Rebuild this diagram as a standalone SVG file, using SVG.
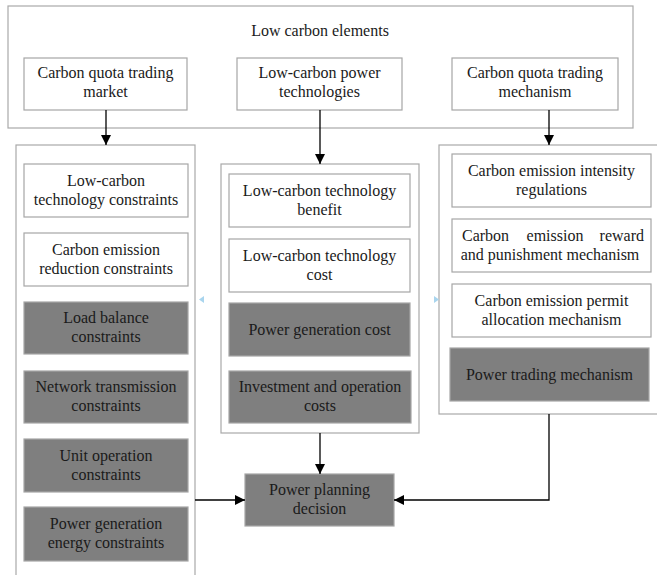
<svg xmlns="http://www.w3.org/2000/svg" width="657" height="575" viewBox="0 0 657 575">
<defs>
<marker id="ah" viewBox="0 0 10 10" refX="10" refY="5" markerWidth="10" markerHeight="10" markerUnits="userSpaceOnUse" orient="auto">
<path d="M0,0 L10,5 L0,10 z" fill="#000"/>
</marker>
<style>
text{font-family:"Liberation Serif","Times New Roman",serif;font-size:16px;fill:#1a1a1a;text-anchor:middle}
.panel{fill:#fff;stroke:#a9a9a9;stroke-width:1.2}
.box{fill:#fff;stroke:#a6a6a6;stroke-width:1.2}
.dark{fill:#7f7f7f;stroke:#a6a6a6;stroke-width:1.2}
.conn{fill:none;stroke:#000;stroke-width:1.3}
.tri{fill:#a9d5ee}
</style>
</defs>
<rect width="657" height="575" fill="#fff"/>
<g id="top-panel">
<rect class="panel" x="8" y="6" width="625" height="122"/>
<text x="320" y="36">Low carbon elements</text>
</g>
<g id="carbon-quota-market">
<rect class="box" x="24" y="58" width="163" height="52"/>
<text x="105.5" y="78">Carbon quota trading</text>
<text x="105.5" y="97">market</text>
</g>
<g id="low-carbon-power-tech">
<rect class="box" x="237" y="58" width="165" height="52"/>
<text x="319.5" y="78">Low-carbon power</text>
<text x="319.5" y="97">technologies</text>
</g>
<g id="carbon-quota-mechanism">
<rect class="box" x="452" y="58" width="166" height="52"/>
<text x="535" y="78">Carbon quota trading</text>
<text x="535" y="97">mechanism</text>
</g>
<g id="left-panel">
<rect class="panel" x="16" y="145" width="179" height="445"/>
</g>
<g id="mid-panel">
<rect class="panel" x="221" y="164" width="198" height="269"/>
</g>
<g id="right-panel">
<rect class="panel" x="439" y="145" width="230" height="269"/>
</g>
<g id="lc-tech-constraints">
<rect class="box" x="24" y="164" width="164" height="53"/>
<text x="106" y="186">Low-carbon</text>
<text x="106" y="205">technology constraints</text>
</g>
<g id="ce-reduction-constraints">
<rect class="box" x="24" y="233" width="164" height="53"/>
<text x="106" y="255">Carbon emission</text>
<text x="106" y="274">reduction constraints</text>
</g>
<g id="load-balance">
<rect class="dark" x="24" y="302" width="164" height="52"/>
<text x="106" y="323">Load balance</text>
<text x="106" y="342">constraints</text>
</g>
<g id="network-transmission">
<rect class="dark" x="24" y="371" width="164" height="52"/>
<text x="106" y="392">Network transmission</text>
<text x="106" y="411">constraints</text>
</g>
<g id="unit-operation">
<rect class="dark" x="24" y="439" width="164" height="53"/>
<text x="106" y="461">Unit operation</text>
<text x="106" y="480">constraints</text>
</g>
<g id="power-gen-energy">
<rect class="dark" x="24" y="507" width="164" height="54"/>
<text x="106" y="529">Power generation</text>
<text x="106" y="548">energy constraints</text>
</g>
<g id="lc-tech-benefit">
<rect class="box" x="229" y="174" width="181" height="53"/>
<text x="319.5" y="196">Low-carbon technology</text>
<text x="319.5" y="215">benefit</text>
</g>
<g id="lc-tech-cost">
<rect class="box" x="229" y="239" width="181" height="53"/>
<text x="319.5" y="261">Low-carbon technology</text>
<text x="319.5" y="280">cost</text>
</g>
<g id="power-gen-cost">
<rect class="dark" x="229" y="303" width="181" height="53"/>
<text x="319.5" y="335">Power generation cost</text>
</g>
<g id="invest-op-costs">
<rect class="dark" x="229" y="371" width="182" height="52"/>
<text x="320" y="392">Investment and operation</text>
<text x="320" y="411">costs</text>
</g>
<g id="ce-intensity">
<rect class="box" x="452" y="154" width="199" height="53"/>
<text x="551.5" y="176">Carbon emission intensity</text>
<text x="551.5" y="195">regulations</text>
</g>
<g id="ce-reward-punish">
<rect class="box" x="452" y="219" width="199" height="53"/>
<text x="462" y="241" style="text-anchor:start">Carbon</text>
<text x="555" y="241">emission</text>
<text x="644" y="241" style="text-anchor:end">reward</text>
<text x="550" y="260">and punishment mechanism</text>
</g>
<g id="ce-permit-alloc">
<rect class="box" x="452" y="284" width="199" height="53"/>
<text x="551.5" y="306">Carbon emission permit</text>
<text x="551.5" y="325">allocation mechanism</text>
</g>
<g id="power-trading">
<rect class="dark" x="450" y="348" width="199" height="53"/>
<text x="549.5" y="380">Power trading mechanism</text>
</g>
<g id="power-planning">
<rect class="dark" x="245" y="474" width="149" height="52"/>
<text x="319.5" y="495">Power planning</text>
<text x="319.5" y="514">decision</text>
</g>
<g id="connectors">
<line class="conn" x1="106" y1="110" x2="106" y2="145" marker-end="url(#ah)"/>
<line class="conn" x1="320" y1="110" x2="320" y2="164" marker-end="url(#ah)"/>
<line class="conn" x1="549" y1="110" x2="549" y2="145" marker-end="url(#ah)"/>
<line class="conn" x1="320" y1="433" x2="320" y2="474" marker-end="url(#ah)"/>
<line class="conn" x1="195" y1="500" x2="245" y2="500" marker-end="url(#ah)"/>
<polyline class="conn" points="549,414 549,500 394,500" marker-end="url(#ah)"/>
</g>
<g id="markers-faint">
<polygon class="tri" points="204,296 204,303 199,299.5"/>
<polygon class="tri" points="434,296 434,303 439,299.5"/>
</g>
</svg>
